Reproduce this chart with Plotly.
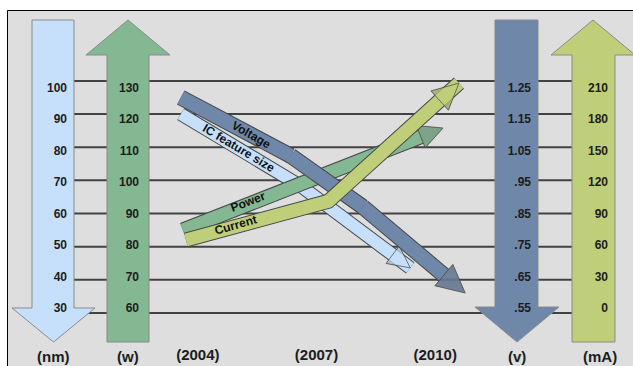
import plotly.graph_objects as go

W, H = 633, 366

# ---------------- data ----------------
year_ticks = [2004, 2007, 2010]
year_labels = ["(2004)", "(2007)", "(2010)"]

nm_ticks = [30, 40, 50, 60, 70, 80, 90, 100]
w_ticks = [60, 70, 80, 90, 100, 110, 120, 130]
v_ticks = [0.55, 0.65, 0.75, 0.85, 0.95, 1.05, 1.15, 1.25]
v_labels = [".55", ".65", ".75", ".85", ".95", "1.05", "1.15", "1.25"]
ma_ticks = [0, 30, 60, 90, 120, 150, 180, 210]

unit_labels = ["(nm)", "(w)", "(v)", "(mA)"]

ic_year = [2003.57, 2006.6, 2009.37]
ic_nm = [90.0, 68.3, 43.6]

power_year = [2003.62, 2010.2]
power_w = [85.0, 115.8]

current_year = [2003.7, 2007.3, 2010.6]
current_ma = [66, 101, 208]

voltage_year = [2003.57, 2006.35, 2008.17, 2010.76]
voltage_v = [1.20, 1.024, 0.870, 0.610]

# ---------------- styles ----------------
BG = "#dedede"
GRID = "#424242"
OUT = "#474747"
C_NM = "#c6e0fb"
C_W = "#84b893"
C_V = "#6f87a9"
C_MA = "#bfcf79"
FONT = "Liberation Sans, Arial, sans-serif"
TXT = "#1c1c1c"


def rng(ticks, lo, hi):
    s = ticks[1] - ticks[0]
    return [ticks[0] + lo * s, ticks[0] + hi * s]


LINE_LO, LINE_HI = -1.6, 9.44    # scale of the horizontal lines
LAB_LO, LAB_HI = -1.83, 9.77     # scale used by the column labels


def px(x):
    return x / W


def py(y):
    return 1 - y / H


def arrow_path(x0, x1, hx0, hx1, base, head, tip, up):
    cx = (hx0 + hx1) / 2
    if up:
        pts = [(x0, base), (x0, head), (hx0, head), (cx, tip), (hx1, head), (x1, head), (x1, base)]
    else:
        pts = [(x0, base), (x1, base), (x1, head), (hx1, head), (cx, tip), (hx0, head), (x0, head)]
    return "M " + " L ".join(f"{px(a):.5f},{py(b):.5f}" for a, b in pts) + " Z"


columns = [
    (C_NM, (32, 74, 12, 95, 20, 308, 342, False)),
    (C_W, (107, 149, 86, 170, 342, 55, 20, True)),
    (C_V, (495, 538, 475, 559, 20, 307, 342, False)),
    (C_MA, (572, 615, 551, 635, 342, 55, 20, True)),
]
col_centers = [53, 128, 517, 600]

shapes = [dict(type="rect", xref="paper", yref="paper", x0=px(7.5), x1=px(700),
               y0=py(10.5), y1=py(400), fillcolor=BG, line=dict(color="#000000", width=1),
               layer="below")]
for v in nm_ticks:
    shapes.append(dict(type="line", xref="paper", yref="y", x0=px(53), x1=px(593),
                       y0=v, y1=v, line=dict(color=GRID, width=2), layer="below"))
for color, g in columns:
    shapes.append(dict(type="path", xref="paper", yref="paper", path=arrow_path(*g),
                       fillcolor=color, line=dict(color="#8a8a8a", width=1), layer="below"))

fig = go.Figure()


def add_arrow(xs, ys, axis, color, width, head):
    n = len(xs)
    sizes = [0] * (n - 1) + [head]
    fig.add_trace(go.Scatter(
        x=xs, y=ys, yaxis=axis, mode="lines+markers", hoverinfo="skip", showlegend=False,
        line=dict(color=OUT, width=width + 2),
        marker=dict(symbol="arrow-up", size=sizes, angleref="previous", color=OUT,
                    line=dict(width=0))))
    fig.add_trace(go.Scatter(
        x=xs, y=ys, yaxis=axis, mode="lines+markers", hoverinfo="skip", showlegend=False,
        line=dict(color=color, width=width),
        marker=dict(symbol="arrow-up", size=sizes, angleref="previous", color=color,
                    line=dict(color=OUT, width=1))))


add_arrow(ic_year, ic_nm, "y", C_NM, 12, 22)
add_arrow(power_year, power_w, "y2", C_W, 13, 24)
add_arrow(current_year, current_ma, "y4", C_MA, 13, 26)
add_arrow(voltage_year, voltage_v, "y3", C_V, 14, 28)

for ax in ["y5", "y6", "y7", "y8"]:
    fig.add_trace(go.Scatter(x=[], y=[], yaxis=ax, showlegend=False, hoverinfo="skip"))

tickfont = dict(family=FONT, size=12, color=TXT, weight="bold")

hidden = dict(visible=False, showgrid=False, zeroline=False, fixedrange=True)


def label_axis(ticks, text, right_edge):
    return dict(overlaying="y", anchor="free", position=px(right_edge + 2), side="left",
                range=rng(ticks, LAB_LO, LAB_HI), tickvals=ticks, ticktext=text,
                showgrid=False, zeroline=False, showline=False, ticks="",
                tickfont=tickfont)


annotations = []
for cx, t in zip(col_centers, unit_labels):
    annotations.append(dict(xref="paper", yref="paper", x=px(cx), y=py(356), text=t,
                            xanchor="center", yanchor="middle", showarrow=False,
                            font=dict(family=FONT, size=15, color=TXT, weight="bold")))

arrow_font = dict(family=FONT, size=12, color="#111111", weight="bold")
annotations += [
    dict(x=2005.36, y=1.087, xref="x", yref="y3", text="Voltage", textangle=30,
         showarrow=False, font=arrow_font),
    dict(x=2005.03, y=79.8, xref="x", yref="y", text="IC feature size", textangle=31,
         showarrow=False, font=arrow_font),
    dict(x=2005.26, y=93.4, xref="x", yref="y2", text="Power", textangle=-21,
         showarrow=False, font=arrow_font),
    dict(x=2004.96, y=79.7, xref="x", yref="y4", text="Current", textangle=-16,
         showarrow=False, font=arrow_font),
]

fig.update_layout(
    width=W, height=H, margin=dict(l=0, r=0, t=0, b=0),
    paper_bgcolor="white", plot_bgcolor="rgba(0,0,0,0)",
    showlegend=False, hovermode=False,
    shapes=shapes, annotations=annotations,
    xaxis=dict(range=[1999.0, 2015.0], tickvals=year_ticks, ticktext=year_labels,
               ticklabelposition="inside", ticks="", showgrid=False, zeroline=False,
               showline=False, fixedrange=True,
               tickfont=dict(family=FONT, size=15, color=TXT, weight="bold")),
    yaxis=dict(range=rng(nm_ticks, LINE_LO, LINE_HI), showticklabels=False, ticks="",
               showgrid=False, zeroline=False, fixedrange=True),
    yaxis2=dict(overlaying="y", range=rng(w_ticks, LINE_LO, LINE_HI), **hidden),
    yaxis3=dict(overlaying="y", range=rng(v_ticks, LINE_LO, LINE_HI), **hidden),
    yaxis4=dict(overlaying="y", range=rng(ma_ticks, LINE_LO, LINE_HI), **hidden),
    yaxis5=label_axis(nm_ticks, [str(t) for t in nm_ticks], 65),
    yaxis6=label_axis(w_ticks, [str(t) for t in w_ticks], 137),
    yaxis7=label_axis(v_ticks, v_labels, 529),
    yaxis8=label_axis(ma_ticks, [str(t) for t in ma_ticks], 606),
)

fig.write_html("out.html")
